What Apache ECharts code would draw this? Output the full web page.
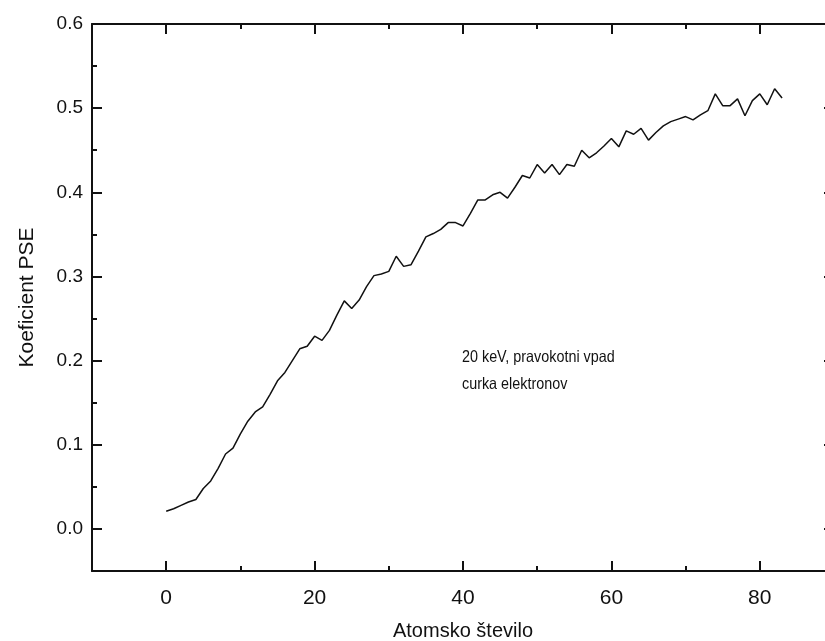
<!DOCTYPE html>
<html>
<head>
<meta charset="utf-8">
<script src="https://cdn.jsdelivr.net/npm/echarts@6/dist/echarts.min.js"></script>
<style>
html,body{margin:0;padding:0;background:#fff;}
#c{width:825px;height:641px;}
</style>
</head>
<body>
<div id="c"></div>
<script>
// Atomic number (x) and PSE coefficient (y)
const atomicNumber = [0,1,2,3,4,5,6,7,8,9,10,11,12,13,14,15,16,17,18,19,20,21,22,23,24,25,26,27,28,29,30,31,32,33,34,35,36,37,38,39,40,41,42,43,44,45,46,47,48,49,50,51,52,53,54,55,56,57,58,59,60,61,62,63,64,65,66,67,68,69,70,71,72,73,74,75,76,77,78,79,80,81,82,83];
const pseCoefficient = [0.021,0.024,0.028,0.032,0.035,0.048,0.057,0.072,0.089,0.096,0.113,0.128,0.139,0.145,0.160,0.176,0.186,0.200,0.214,0.217,0.229,0.224,0.236,0.254,0.271,0.262,0.272,0.288,0.301,0.303,0.306,0.324,0.312,0.314,0.330,0.347,0.351,0.356,0.364,0.364,0.360,0.375,0.391,0.391,0.397,0.400,0.393,0.406,0.420,0.417,0.433,0.423,0.433,0.421,0.433,0.431,0.450,0.441,0.447,0.455,0.464,0.454,0.473,0.469,0.476,0.462,0.471,0.479,0.484,0.487,0.490,0.486,0.492,0.497,0.517,0.503,0.503,0.511,0.491,0.509,0.517,0.504,0.523,0.512];
const xMajorTicks = [0,20,40,60,80];
const xMinorTicks = [10,30,50,70];
const yMajorTicks = [0,0.1,0.2,0.3,0.4,0.5,0.6];
const yMinorTicks = [0.05,0.15,0.25,0.35,0.45,0.55];
const xTitle = 'Atomsko število';
const yTitle = 'Koeficient PSE';
const noteLines = ['20 keV, pravokotni vpad', 'curka elektronov'];

const FONT = '"Liberation Sans", Arial, sans-serif';
const X_MIN = -10, X_MAX = 90, Y_MIN = -0.05, Y_MAX = 0.6;
const gridPos = {left: 92, right: -9, top: 24, bottom: 70, outerBoundsMode: 'none', containLabel: false};

function xAx(grid, pos, ticks, len, labels, lineShow) {
  return {
    type: 'value', gridIndex: grid, position: pos, min: X_MIN, max: X_MAX,
    axisLine: {show: lineShow, onZero: false, lineStyle: {color: '#111', width: 2}},
    axisTick: {show: true, inside: true, length: len, customValues: ticks, lineStyle: {color: '#111', width: 2}},
    axisLabel: {show: labels, customValues: ticks, margin: 17, color: '#111', fontFamily: FONT, fontSize: 21},
    splitLine: {show: false}
  };
}
function yAx(grid, pos, ticks, len, labels, lineShow) {
  return {
    type: 'value', gridIndex: grid, position: pos, min: Y_MIN, max: Y_MAX,
    axisLine: {show: lineShow, onZero: false, lineStyle: {color: '#111', width: 2}},
    axisTick: {show: true, inside: true, length: len, customValues: ticks, lineStyle: {color: '#111', width: 2}},
    axisLabel: {show: labels, customValues: ticks, margin: 9, color: '#111', fontFamily: FONT, fontSize: 19,
      formatter: v => v.toFixed(1)},
    splitLine: {show: false}
  };
}

const xAxes = [
  Object.assign(xAx(0, 'bottom', xMajorTicks, 10, true, true), {
    name: xTitle, nameLocation: 'middle', nameGap: 50,
    nameTextStyle: {color: '#111', fontFamily: FONT, fontSize: 20}
  }),
  xAx(0, 'top', xMajorTicks, 10, false, true),
  xAx(1, 'bottom', xMinorTicks, 5, false, false),
  xAx(1, 'top', xMinorTicks, 5, false, false)
];
const yAxes = [
  Object.assign(yAx(0, 'left', yMajorTicks, 10, true, true), {
    name: yTitle, nameLocation: 'middle', nameGap: 54,
    nameTextStyle: {color: '#111', fontFamily: FONT, fontSize: 21}
  }),
  yAx(0, 'right', yMajorTicks, 10, false, true),
  yAx(1, 'left', yMinorTicks, 5, false, false),
  yAx(1, 'right', yMinorTicks, 5, false, false)
];

const chart = echarts.init(document.getElementById('c'), null, {renderer: 'canvas'});
chart.setOption({
  animation: false,
  backgroundColor: '#fff',
  grid: [Object.assign({}, gridPos), Object.assign({}, gridPos)],
  xAxis: xAxes,
  yAxis: yAxes,
  graphic: [{
    type: 'text', x: 462, y: 344, scaleX: 0.87,
    style: {text: noteLines.join('\n'), fill: '#111', font: '16.5px ' + FONT, lineHeight: 27,
      verticalAlign: 'top', align: 'left'}
  }],
  series: [{
    type: 'line', xAxisIndex: 0, yAxisIndex: 0,
    data: atomicNumber.map((z, i) => [z, pseCoefficient[i]]),
    showSymbol: false, symbol: 'none',
    lineStyle: {color: '#111', width: 1.5}
  }]
});
</script>
</body>
</html>
